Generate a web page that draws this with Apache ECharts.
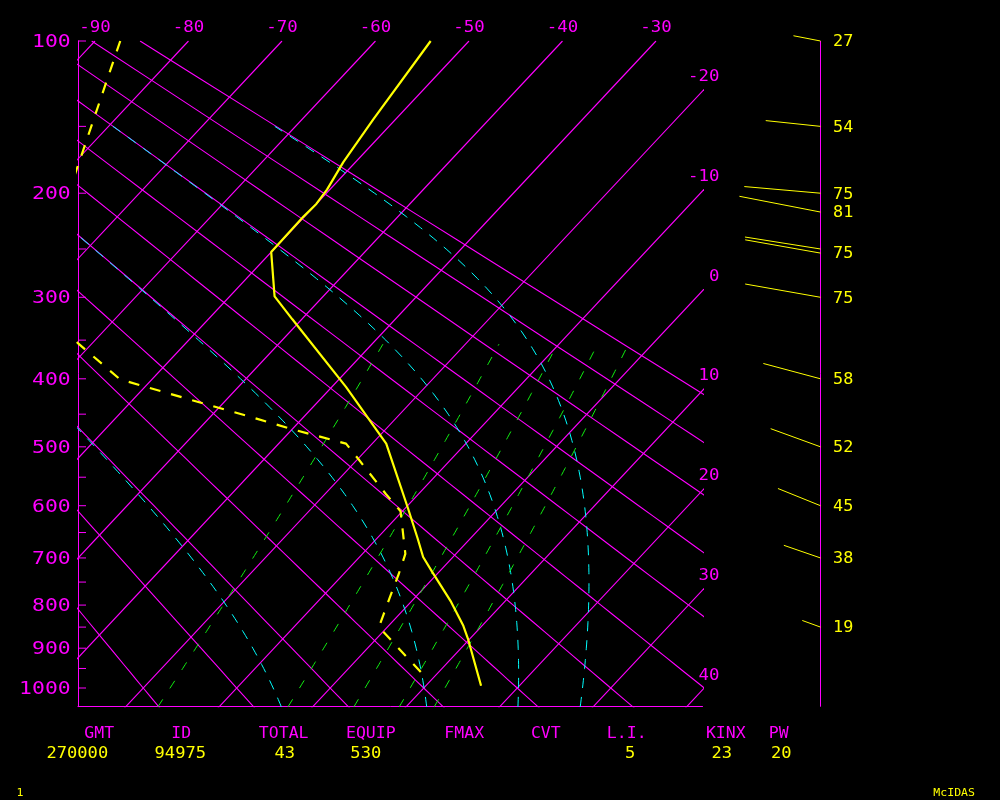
<!DOCTYPE html>
<html><head><meta charset="utf-8">
<script src="https://cdn.jsdelivr.net/npm/echarts@6/dist/echarts.min.js"></script>
<style>html,body{margin:0;padding:0;background:#000}#chart{width:1000px;height:800px}</style>
</head><body><div id="chart"></div>
<script>
// ---------------- data ----------------
const tempP = [100,145,175.5,197,209,220,253,299,325,411,495,606,662,698,729,793,847,877.5,994];
const tempT = [-54.1,-52.4,-51.3,-50.3,-50.0,-50.1,-50.0,-45.2,-41.0,-28.5,-18.5,-9.6,-5.6,-3.2,-0.7,4.3,8.0,9.8,15.9];
const dewUpperP = [100,168,205];
const dewUpperT = [-87.3,-80.2,-77.2];
const dewLowerP = [334,354,399,404,428,453,472,495,520,579,610,692,733,776,820,850,972];
const dewLowerT = [-65.0,-61.5,-53.7,-52.3,-44.2,-36.0,-30.2,-22.8,-19.9,-13.5,-10.2,-5.4,-4.1,-2.9,-1.7,-0.9,9.1];
const windP   = [100,150,200,216,250,254,300,400,500,600,700,850];
const windDir = [281,276,275,281,279,280,280,285,290,292,289,290];
const windSpd = [27,54,75,81,75,75,75,58,52,45,38,19];
const pressureTicks = [100,150,200,250,300,350,400,450,500,550,600,650,700,750,800,850,900,950,1000];
const isotherms = [-90,-80,-70,-60,-50,-40,-30,-20,-10,0,10,20,30,40];
const dryAdiabats = [-20,-10,0,10,20,30,40,50,60,70,80,90];   // potential temperature, deg C
const moistThetaE = [0,30,60,90];                               // equivalent potential temperature, deg C
const mixingRatios = [1,3,5,7,9];                               // g/kg
const statNames  = ['GMT','ID','TOTAL','EQUIP','FMAX','CVT','L.I.','KINX','PW'];
const statValues = ['270000','94975','43','530','','','5','23','20'];

// ---------------- diagram geometry ----------------
const KAPPA = 0.286;
const pk = p => Math.pow(p, KAPPA);
const PK100 = pk(100);
const SKEW = 18.64;                 // deg C per unit of p^kappa
const skewX = (T, p) => T - SKEW * (pk(p) - PK100);
const PX_PER_C = 9.35, PX_PER_PK = 186;
const G = {left:78, top:41, right:702.5, bottom:706.7};
const WIND_PANEL_DX = 117;          // wind staff offset to the right of the diagram
const xMin = -90 - (95 - G.left) / PX_PER_C;
const xMax = xMin + (G.right - G.left) / PX_PER_C;
const yMin = PK100;
const yMax = PK100 + (G.bottom - G.top) / PX_PER_PK;
const P_BOTTOM = Math.pow(yMax, 1 / KAPPA);

const MAG = '#ff00ff', YEL = '#ffff00', CYA = '#00ffff', GRN = '#11ee11';
const FONT = '"DejaVu Sans Mono", "Liberation Mono", monospace';

// ---------------- thermodynamic helpers ----------------
const es = T => 6.112 * Math.exp(17.67 * T / (T + 243.5));
const rsat = (T, p) => { const e = es(T); return 0.622 * e / (p - e); };
const thetaE = (T, p) => { const Tk = T + 273.15; return Tk * Math.pow(1000 / p, KAPPA) * Math.exp(2.5e6 * rsat(T, p) / (1004 * Tk)); };
function tempOnThetaE(thK, p) {
  let lo = -130, hi = 60;
  for (let i = 0; i < 50; i++) { const m = (lo + hi) / 2; if (thetaE(m, p) > thK) hi = m; else lo = m; }
  return (lo + hi) / 2;
}
const mixT = (w, p) => { const e = w * p / (622 + w); const L = Math.log(e / 6.112); return 243.5 * L / (17.67 - L); };
const toXY = (p, T) => [skewX(T, p), pk(p)];

// ---------------- series ----------------
const series = [];
const lineSeries = (data, color, width, type, z) => ({
  type: 'line', data, showSymbol: false, symbol: 'none',
  silent: true, clip: true, animation: false, z: z,
  lineStyle: { color, width, type }
});
isotherms.forEach(T => series.push(lineSeries([toXY(100, T), toXY(P_BOTTOM + 5, T)], MAG, 1.1, 'solid', 2)));
dryAdiabats.forEach(th => {
  const d = [];
  for (let p = 100; p <= 1060; p += 20) d.push(toXY(p, (th + 273.15) * Math.pow(p / 1000, KAPPA) - 273.15));
  series.push(lineSeries(d, MAG, 1.1, 'solid', 2));
});
moistThetaE.forEach(th => {
  const d = [];
  for (let p = 1050; p >= 150; p -= 10) d.push(toXY(p, tempOnThetaE(th + 273.15, p)));
  series.push(lineSeries(d, CYA, 1, [10, 9], 3));
});
mixingRatios.forEach(w => {
  const d = [];
  for (let p = 1050; p >= 355; p -= 5) d.push(toXY(p, mixT(w, p)));
  series.push(lineSeries(d, GRN, 1, [9, 13], 3));
});
series.push(lineSeries(tempP.map((p, i) => toXY(p, tempT[i])), YEL, 2.2, 'solid', 5));
series.push(lineSeries(dewUpperP.map((p, i) => toXY(p, dewUpperT[i])), YEL, 2.2, [11, 11], 5));
series.push(lineSeries(dewLowerP.map((p, i) => toXY(p, dewLowerT[i])), YEL, 2.2, [11, 11], 5));

const txt = (x, y, text, color, size, sx, align) => ({
  type: 'text', x, y, scaleX: sx, scaleY: 1,
  style: { text, fill: color, font: size + 'px ' + FONT, align, verticalAlign: 'middle', textAlign: align, textVerticalAlign: 'middle' }
});

// pressure ticks + labels
series.push({
  type: 'custom', silent: true, animation: false, z: 6,
  data: pressureTicks.map(p => [xMin, pk(p), p]),
  renderItem(params, api) {
    const c = api.coord([api.value(0), api.value(1)]);
    const p = api.value(2);
    const ch = [{ type: 'line', shape: { x1: c[0], y1: c[1], x2: c[0] + 8, y2: c[1] }, style: { stroke: MAG, lineWidth: 1 } }];
    if (p % 100 === 0) ch.push(txt(c[0] - 7.3, c[1] + 1.5, String(p), MAG, 17, 1.26, 'right'));
    return { type: 'group', children: ch };
  }
});
// isotherm labels
series.push({
  type: 'custom', silent: true, animation: false, z: 6,
  data: isotherms.map(T => [T, T <= xMax ? PK100 : PK100 + (T - xMax) / SKEW, T]),
  renderItem(params, api) {
    const T = api.value(2);
    if (T <= xMax) {
      const c = api.coord([T, PK100]);
      return txt(c[0], c[1] - 13, String(T), MAG, 15, 1.16, 'center');
    }
    const c = api.coord([xMax, api.value(1)]);
    return txt(c[0] + 17, c[1] - 14, String(T), MAG, 15, 1.16, 'right');
  }
});
// wind panel: staff + wind direction sticks with speed labels
series.push({
  type: 'custom', silent: true, animation: false, z: 7,
  data: windP.map((p, i) => [xMax, pk(p), windDir[i], windSpd[i], i]),
  renderItem(params, api) {
    const c0 = api.coord([api.value(0), api.value(1)]);
    const c = [Math.round(c0[0] + WIND_PANEL_DX) + 0.5, c0[1]];
    const dir = api.value(2) * Math.PI / 180, L = api.value(3) * 1.02;
    const i = api.value(4);
    const ch = [];
    if (i === 0) {
      const top = api.coord([xMax, yMin]), bot = api.coord([xMax, yMax]);
      ch.push({ type: 'line', shape: { x1: c[0], y1: top[1], x2: c[0], y2: bot[1] }, style: { stroke: MAG, lineWidth: 1 } });
    }
    ch.push({ type: 'line', shape: { x1: c[0], y1: c[1], x2: c[0] + L * Math.sin(dir), y2: c[1] - L * Math.cos(dir) },
              style: { stroke: YEL, lineWidth: 1 } });
    let hide = false;
    if (i + 1 < windP.length) {
      const n = api.coord([xMax, pk(windP[i + 1])]);
      if (Math.abs(n[1] - c[1]) < 8) hide = true;
    }
    if (!hide) ch.push(txt(c[0] + 12.6, c[1] + 1.5, String(api.value(3)), YEL, 15, 1.12, 'left'));
    return { type: 'group', children: ch };
  }
});

// bottom texts
const nameX = [99.2,181.2,283.7,370.8,464.2,545.8,626.7,725.8,778.8];
const valX  = [77.3,180.3,284.7,365.8,0,0,630.2,721.7,781.3];
const graphics = [];
statNames.forEach((s, i) => graphics.push(txt(nameX[i], 734.5, s, MAG, 15, 1.1, 'center')));
statValues.forEach((s, i) => { if (s) graphics.push(txt(valX[i], 754.5, s, YEL, 15, 1.14, 'center')); });
graphics.push(txt(16.5, 793, '1', YEL, 11, 1.05, 'left'));
graphics.push(txt(975, 793, 'McIDAS', YEL, 11, 1.05, 'right'));

const option = {
  backgroundColor: '#000',
  animation: false,
  grid: { left: G.left, top: G.top, width: G.right - G.left, height: G.bottom - G.top, containLabel: false },
  xAxis: { type: 'value', min: xMin, max: xMax, position: 'bottom',
      axisLine: { show: true, onZero: false, lineStyle: { color: MAG, width: 1 } },
      axisTick: { show: false }, axisLabel: { show: false }, splitLine: { show: false } },
  yAxis: { type: 'value', min: yMin, max: yMax, inverse: true, position: 'left',
      axisLine: { show: true, onZero: false, lineStyle: { color: MAG, width: 1 } },
      axisTick: { show: false }, axisLabel: { show: false }, splitLine: { show: false } },
  graphic: graphics,
  series
};
const chart = echarts.init(document.getElementById('chart'), null, { renderer: 'canvas' });
chart.setOption(option);
</script>
</body></html>
